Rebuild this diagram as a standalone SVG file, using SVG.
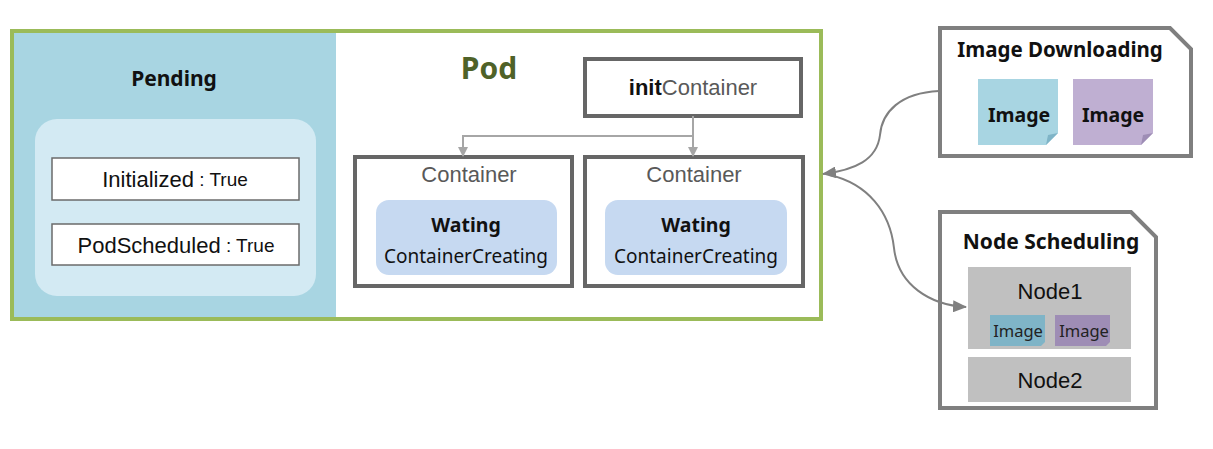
<svg xmlns="http://www.w3.org/2000/svg" width="1213" height="449" viewBox="0 0 1213 449">
<defs>
<style>
.t{font-family:"Liberation Sans",Arial,sans-serif;text-anchor:middle;dominant-baseline:central}
.k{font-family:"Noto Sans","Liberation Sans",sans-serif;text-anchor:middle;dominant-baseline:central}
.b{font-weight:bold}
.box{fill:#fff;stroke:#666;stroke-width:4}
.cond{fill:#fff;stroke:#6b6b6b;stroke-width:1.5}
.note{stroke:#7f7f7f;stroke-width:4;fill:#fff}
.wait{fill:#C6D9F1}
.nd{fill:#C0C0C0}
.gl{fill:none;stroke:#A6A6A6;stroke-width:2}
.cv{fill:none;stroke:#808080;stroke-width:2}
</style>
<marker id="ag" markerWidth="10" markerHeight="10" refX="9" refY="5" orient="auto" markerUnits="userSpaceOnUse"><path d="M0,0 L10,5 L0,10 z" fill="#A6A6A6"/></marker>
<marker id="ad" markerWidth="14" markerHeight="12" refX="13" refY="6" orient="auto" markerUnits="userSpaceOnUse"><path d="M0,0 L14,6 L0,12 z" fill="#808080"/></marker>
</defs>
<rect width="1213" height="449" fill="#fff"/>

<g id="pod">
<rect x="12" y="31" width="809" height="288" fill="#fff" stroke="#9BBB59" stroke-width="4"/>
<text class="k b" x="489" y="67" font-size="30" fill="#4F6228">Pod</text>
</g>

<g id="pending">
<rect x="14" y="33" width="322" height="284" fill="#A8D5E2"/>
<text class="k b" x="174" y="78" font-size="21" fill="#111">Pending</text>
<rect x="35" y="119" width="281" height="177" rx="22" fill="#D3EAF3"/>
</g>

<g id="initialized">
<rect class="cond" x="52" y="158" width="247" height="42"/>
<text class="t" x="175" y="179" font-size="22" fill="#111">Initialized<tspan font-size="19"> : True</tspan></text>
</g>

<g id="podscheduled">
<rect class="cond" x="52" y="224" width="247" height="41"/>
<text class="t" x="176" y="245" font-size="22" fill="#111">PodScheduled<tspan font-size="19"> : True</tspan></text>
</g>

<g id="initcontainer">
<rect class="box" x="585" y="59" width="216" height="57"/>
<text class="t" x="693" y="87" font-size="22" fill="#595959"><tspan font-weight="bold" fill="#111">init</tspan>Container</text>
</g>

<g id="container1">
<rect class="box" x="355" y="157" width="217" height="129"/>
<text class="t" x="469" y="174" font-size="22" fill="#595959">Container</text>
<rect class="wait" x="376" y="200" width="181" height="75" rx="13"/>
<text class="k b" x="466" y="224" font-size="19.5" fill="#111">Wating</text>
<text class="k" x="466" y="256" font-size="19" fill="#111">ContainerCreating</text>
</g>

<g id="container2">
<rect class="box" x="585" y="157" width="218" height="129"/>
<text class="t" x="694" y="174" font-size="22" fill="#595959">Container</text>
<rect class="wait" x="605" y="200" width="182" height="75" rx="13"/>
<text class="k b" x="696" y="224" font-size="19.5" fill="#111">Wating</text>
<text class="k" x="696" y="256" font-size="19" fill="#111">ContainerCreating</text>
</g>

<g id="imagedownloading">
<path class="note" d="M940,28 H1170 L1191,49 V156 H940 Z"/>
<text class="k b" x="1060" y="49" font-size="20.5" fill="#111">Image Downloading</text>
<path d="M978,79 H1058 V133 L1046,145 H978 Z" fill="#A8D5E2"/>
<path d="M1058,133 L1046,145 L1048,135 Z" fill="#7FB4C7"/>
<text class="k b" x="1019" y="114" font-size="19.5" fill="#111">Image</text>
<path d="M1073,79 H1153 V133 L1141,145 H1073 Z" fill="#BFAFD2"/>
<path d="M1153,133 L1141,145 L1143,135 Z" fill="#9E8DB5"/>
<text class="k b" x="1113" y="114" font-size="19.5" fill="#111">Image</text>
</g>

<g id="nodescheduling">
<path class="note" d="M940,212 H1131 L1156,237 V408 H940 Z"/>
<text class="k b" x="1051" y="241" font-size="21" fill="#111">Node Scheduling</text>
</g>

<g id="node1">
<rect class="nd" x="968" y="267" width="163" height="82"/>
<text class="t" x="1050" y="291" font-size="22" fill="#111">Node1</text>
<path d="M990,315 H1045 V342 L1041,346 H990 Z" fill="#7FB4C7"/>
<text class="k" x="1018" y="330" font-size="16.5" fill="#222">Image</text>
<path d="M1055,315 H1110 V342 L1106,346 H1055 Z" fill="#9E8DB5"/>
<text class="k" x="1084" y="330" font-size="16.5" fill="#222">Image</text>
</g>

<g id="node2">
<rect class="nd" x="968" y="357" width="163" height="45"/>
<text class="t" x="1050" y="380" font-size="22" fill="#111">Node2</text>
</g>

<g id="connectors">
<path class="gl" d="M693,116 V136"/>
<path class="gl" d="M693,136 H463 V156" marker-end="url(#ag)"/>
<path class="gl" d="M693,136 V156" marker-end="url(#ag)"/>
<path class="cv" d="M939,91 C900,93 882,112 880,135 C877,160 855,170 823,174" marker-end="url(#ad)"/>
<path class="cv" d="M830,175 C868,184 890,212 894,248 C898,285 930,305 966,307" marker-end="url(#ad)"/>
</g>
</svg>
